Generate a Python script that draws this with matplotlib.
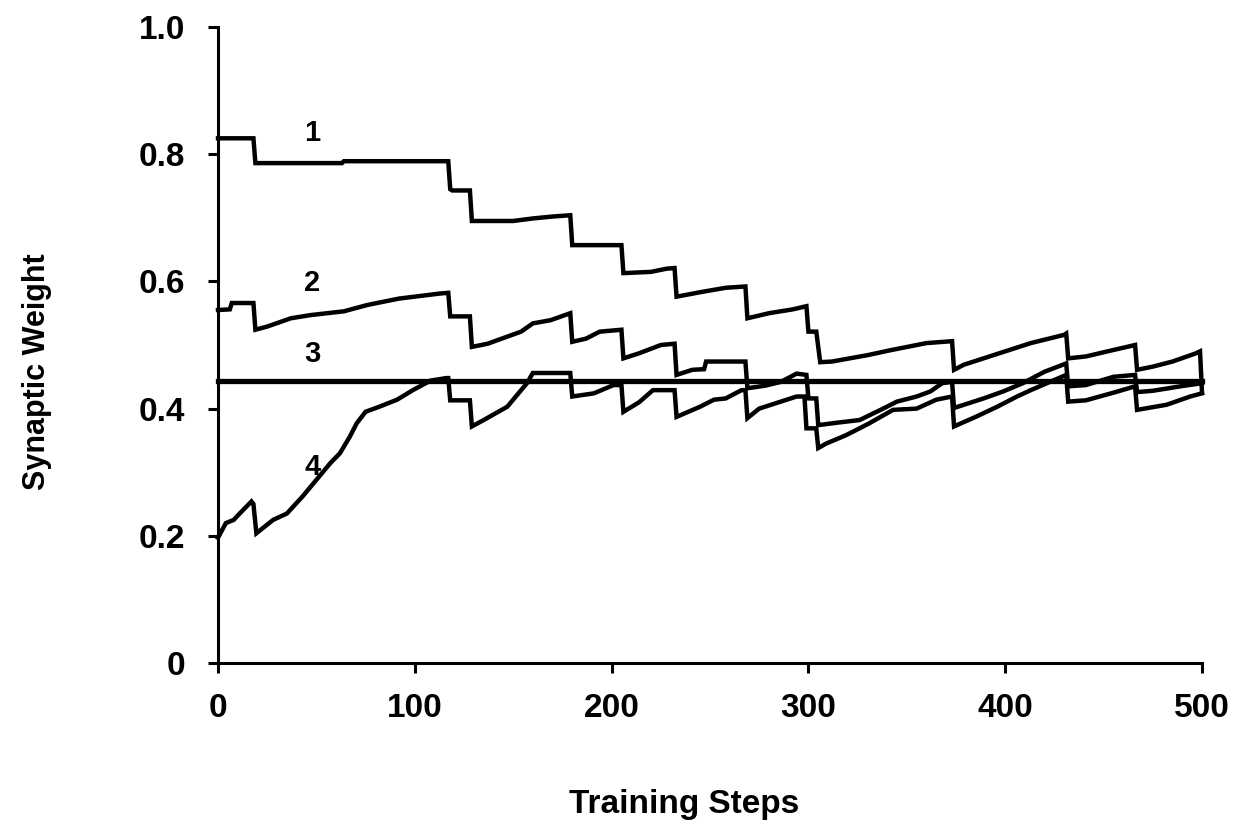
import matplotlib
matplotlib.use("Agg")
import matplotlib.pyplot as plt

# ---- data ----
steps_1 = [0, 18, 19, 63, 64, 117, 118, 119, 128, 129, 150, 160, 170, 179, 180, 205, 206, 220, 228, 232,
           233, 245, 258, 268, 269, 280, 292, 299, 300, 304, 306, 312, 330, 342, 360, 373, 374, 379, 392,
           402, 413, 430, 431, 432, 441, 452, 466, 467, 475, 485, 497, 499, 500]
weight_1 = [0.825, 0.825, 0.786, 0.786, 0.789, 0.789, 0.745, 0.743, 0.743, 0.695, 0.695, 0.699, 0.702,
            0.704, 0.657, 0.657, 0.613, 0.615, 0.620, 0.621, 0.576, 0.583, 0.590, 0.592, 0.542, 0.550,
            0.556, 0.561, 0.521, 0.521, 0.473, 0.474, 0.484, 0.492, 0.503, 0.506, 0.461, 0.469, 0.482,
            0.492, 0.503, 0.516, 0.518, 0.479, 0.482, 0.490, 0.500, 0.461, 0.466, 0.474, 0.487, 0.490, 0.425]

steps_2 = [0, 6, 7, 18, 19, 25, 37, 47, 64, 76, 92, 113, 117, 118, 128, 129, 137, 154, 160, 169, 179,
           180, 187, 194, 205, 206, 214, 225, 232, 233, 241, 247, 248, 268, 269, 278, 286, 294, 299, 300,
           304, 305, 315, 326, 338, 345, 355, 362, 368, 373, 374, 389, 399, 409, 420, 431, 432, 441, 455,
           466, 467, 475, 489, 500]
weight_2 = [0.555, 0.556, 0.566, 0.566, 0.524, 0.529, 0.542, 0.547, 0.553, 0.563, 0.573, 0.581, 0.582,
            0.545, 0.545, 0.497, 0.502, 0.521, 0.534, 0.539, 0.550, 0.505, 0.510, 0.521, 0.524, 0.479,
            0.487, 0.500, 0.502, 0.453, 0.461, 0.462, 0.474, 0.474, 0.432, 0.436, 0.442, 0.455, 0.453,
            0.416, 0.416, 0.374, 0.378, 0.382, 0.400, 0.411, 0.419, 0.427, 0.440, 0.442, 0.401, 0.416,
            0.427, 0.440, 0.458, 0.471, 0.435, 0.437, 0.450, 0.453, 0.426, 0.428, 0.435, 0.440]

steps_3 = [0, 500]
weight_3 = [0.444, 0.444]

steps_4 = [0, 4, 8, 11, 17, 18, 19.5, 28, 35, 43, 50, 57, 62, 67, 70.5, 75, 82, 91, 99, 108, 116, 117,
           118, 128, 129, 135, 147, 157, 160, 179, 180, 191, 201, 205, 206, 214, 221, 232, 233, 245, 252,
           258, 266, 268, 269, 275, 286, 294, 298, 299, 304, 305, 309, 319, 326, 331, 343, 355, 365, 373,
           374, 385, 396, 406, 413, 431, 432, 441, 455, 466, 467, 482, 494, 500]
weight_4 = [0.197, 0.220, 0.225, 0.235, 0.254, 0.250, 0.204, 0.225, 0.235, 0.262, 0.288, 0.314, 0.330,
            0.356, 0.377, 0.395, 0.403, 0.414, 0.429, 0.444, 0.448, 0.448, 0.413, 0.413, 0.372, 0.382,
            0.403, 0.440, 0.456, 0.456, 0.419, 0.424, 0.437, 0.437, 0.395, 0.410, 0.429, 0.429, 0.387,
            0.403, 0.414, 0.416, 0.429, 0.429, 0.385, 0.400, 0.411, 0.419, 0.419, 0.369, 0.369, 0.338,
            0.345, 0.358, 0.369, 0.377, 0.398, 0.400, 0.414, 0.419, 0.372, 0.387, 0.403, 0.419, 0.429,
            0.453, 0.411, 0.413, 0.425, 0.435, 0.398, 0.406, 0.419, 0.424]

curve_labels = ["1", "2", "3", "4"]
label_x = [48, 48, 48, 48]
label_y = [0.833, 0.597, 0.486, 0.308]

x_ticks = [0, 100, 200, 300, 400, 500]
y_ticks = [0, 0.2, 0.4, 0.6, 0.8, 1.0]
y_tick_labels = ["0", "0.2", "0.4", "0.6", "0.8", "1.0"]

# ---- figure ----
plt.rcParams['font.family'] = ['Liberation Sans', 'DejaVu Sans']
plt.rcParams['font.weight'] = 'bold'

fig = plt.figure(figsize=(12.37, 8.40), dpi=100)
ax = fig.add_axes([218 / 1237, 1 - 663 / 840, (1202 - 218) / 1237, (663 - 27) / 840])

series = [(steps_1, weight_1, 3.2), (steps_2, weight_2, 3.2),
          (steps_3, weight_3, 3.8), (steps_4, weight_4, 3.2)]
for xs, ys, lw in series:
    ax.plot(xs, ys, color='black', lw=lw, solid_joinstyle='miter', clip_on=False, zorder=3)

for t, lx, ly in zip(curve_labels, label_x, label_y):
    ax.text(lx, ly, t, fontsize=21, fontweight='bold', ha='center', va='center')

ax.set_xlim(0, 500)
ax.set_ylim(0, 1.0)
ax.set_xticks(x_ticks)
ax.set_xticklabels([str(v) for v in x_ticks])
ax.set_yticks(y_ticks)
ax.set_yticklabels(y_tick_labels)

for s in ['top', 'right']:
    ax.spines[s].set_visible(False)
for s in ['left', 'bottom']:
    ax.spines[s].set_linewidth(2.2)

ax.tick_params(axis='both', direction='out', length=7.5, width=2.2, labelsize=24)
ax.tick_params(axis='y', pad=16)
ax.tick_params(axis='x', pad=14)
for lab in ax.get_xticklabels() + ax.get_yticklabels():
    lab.set_fontweight('bold')

fig.text(684 / 1237, 1 - 805 / 840, "Training Steps", fontsize=24, fontweight='bold',
         ha='center', va='center')
fig.text(37 / 1237, 1 - 372 / 840, "Synaptic Weight", fontsize=22, fontweight='bold',
         ha='center', va='center', rotation=90)

fig.savefig("out.png", dpi=100, facecolor='white')
